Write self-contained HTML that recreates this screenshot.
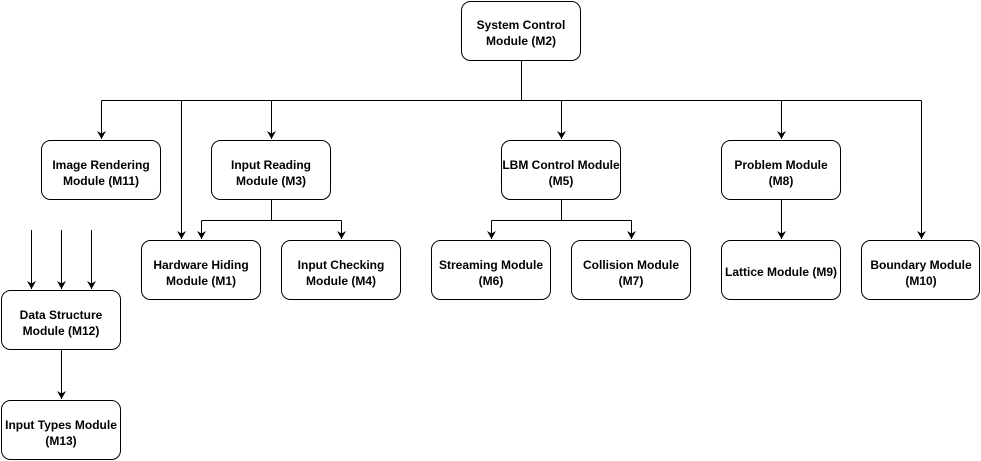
<!DOCTYPE html>
<html><head><meta charset="utf-8"><style>
html,body{margin:0;padding:0;background:#fff;}
svg{display:block;}
text{font-family:"Liberation Sans",Arial,sans-serif;font-size:12px;font-weight:bold;fill:#000;text-anchor:middle;}
</style></head><body>
<svg width="981" height="461" viewBox="0 0 981 461" xmlns="http://www.w3.org/2000/svg">
<defs>
<marker id="b" markerWidth="9" markerHeight="9" refX="8" refY="4.5" orient="auto" markerUnits="userSpaceOnUse">
<path d="M0,0 L8,4.5 L0,9 L2.5,4.5 Z" fill="#000"/>
</marker>
</defs>
<g fill="none" stroke="#000" stroke-width="1">
<path d="M521.5 61 V100.5 M101.5 100.5 H921.5"/>
<path d="M101.5 100.5 V139" marker-end="url(#b)"/>
<path d="M181.5 100.5 V239" marker-end="url(#b)"/>
<path d="M271.5 100.5 V139" marker-end="url(#b)"/>
<path d="M561.5 100.5 V139" marker-end="url(#b)"/>
<path d="M781.5 100.5 V139" marker-end="url(#b)"/>
<path d="M921.5 100.5 V239" marker-end="url(#b)"/>
<path d="M271.5 200 V220.5 M201.5 220.5 H341.5"/>
<path d="M201.5 220.5 V239" marker-end="url(#b)"/>
<path d="M341.5 220.5 V239" marker-end="url(#b)"/>
<path d="M561.5 200 V220.5 M491.5 220.5 H631.5"/>
<path d="M491.5 220.5 V239" marker-end="url(#b)"/>
<path d="M631.5 220.5 V239" marker-end="url(#b)"/>
<path d="M781.5 200 V239" marker-end="url(#b)"/>
<path d="M31.5 230 V289" marker-end="url(#b)"/>
<path d="M61.5 230 V289" marker-end="url(#b)"/>
<path d="M91.5 230 V289" marker-end="url(#b)"/>
<path d="M61.5 350 V399" marker-end="url(#b)"/>
</g>
<g fill="#fff" stroke="#000" stroke-width="1">
<rect x="461.5" y="1.5" width="119" height="59" rx="9"/>
<rect x="41.5" y="140.5" width="119" height="59" rx="9"/>
<rect x="211.5" y="140.5" width="119" height="59" rx="9"/>
<rect x="501.5" y="140.5" width="119" height="59" rx="9"/>
<rect x="721.5" y="140.5" width="119" height="59" rx="9"/>
<rect x="141.5" y="240.5" width="119" height="59" rx="9"/>
<rect x="281.5" y="240.5" width="119" height="59" rx="9"/>
<rect x="431.5" y="240.5" width="119" height="59" rx="9"/>
<rect x="571.5" y="240.5" width="119" height="59" rx="9"/>
<rect x="721.5" y="240.5" width="119" height="59" rx="9"/>
<rect x="861.5" y="240.5" width="118" height="59" rx="9"/>
<rect x="1.5" y="290.5" width="119" height="59" rx="9"/>
<rect x="1.5" y="400.5" width="119" height="59" rx="9"/>
</g>
<text x="521" y="29">System Control</text><text x="521" y="45">Module (M2)</text>
<text x="101" y="169">Image Rendering</text><text x="101" y="185">Module (M11)</text>
<text x="271" y="169">Input Reading</text><text x="271" y="185">Module (M3)</text>
<text x="561" y="169">LBM Control Module</text><text x="561" y="185">(M5)</text>
<text x="781" y="169">Problem Module</text><text x="781" y="185">(M8)</text>
<text x="201" y="269">Hardware Hiding</text><text x="201" y="285">Module (M1)</text>
<text x="341" y="269">Input Checking</text><text x="341" y="285">Module (M4)</text>
<text x="491" y="269">Streaming Module</text><text x="491" y="285">(M6)</text>
<text x="631" y="269">Collision Module</text><text x="631" y="285">(M7)</text>
<text x="781" y="276">Lattice Module (M9)</text>
<text x="921" y="269">Boundary Module</text><text x="921" y="285">(M10)</text>
<text x="61" y="319">Data Structure</text><text x="61" y="335">Module (M12)</text>
<text x="61" y="429">Input Types Module</text><text x="61" y="445">(M13)</text>
</svg>
</body></html>
